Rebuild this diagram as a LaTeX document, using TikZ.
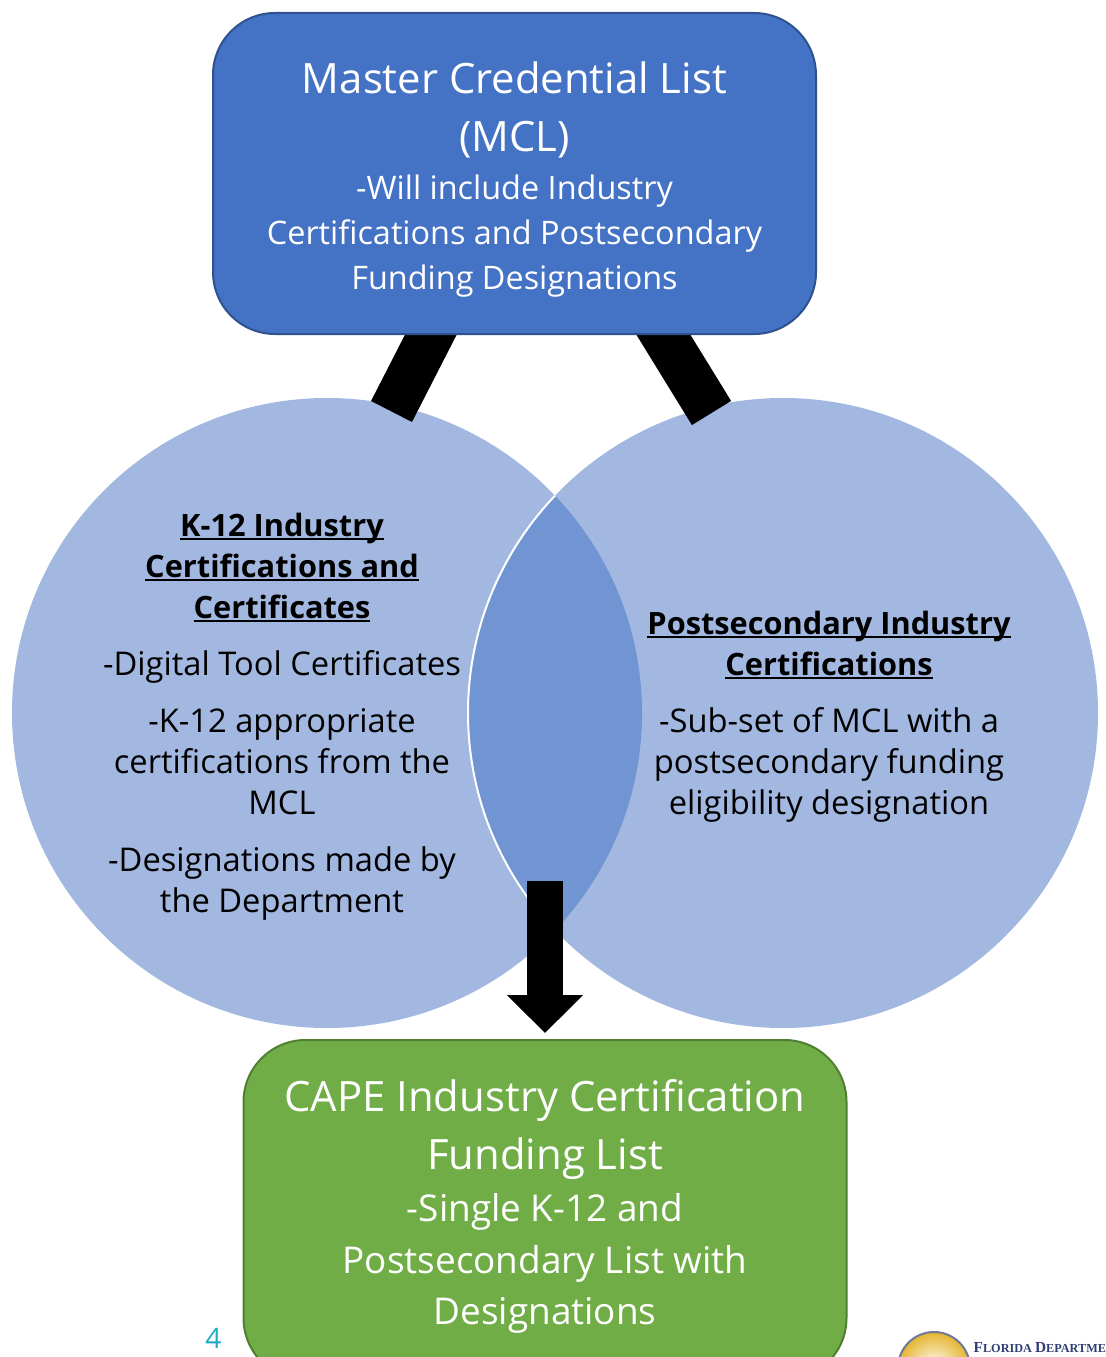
\documentclass[tikz,border=0pt]{standalone}
\usepackage{fontspec}
\setmainfont{Open Sans}
\newfontfamily\logofont{Liberation Serif}
\usetikzlibrary{
    arrows.meta,
    backgrounds
}
\definecolor{mclblue}{HTML}{4472C4}
\definecolor{mcledge}{HTML}{2F528F}
\definecolor{capegreen}{HTML}{70AD47}
\definecolor{capeedge}{HTML}{507E32}
\definecolor{circleblue}{HTML}{A2B8E1}
\definecolor{lensblue}{HTML}{7194D3}
\definecolor{pageteal}{HTML}{1CADC4}
\definecolor{logonavy}{HTML}{2F3F73}
\definecolor{logogold}{HTML}{E6B52F}
\newcommand{\headline}[1]{\setbox0\hbox{\fontsize{8.75}{11.66}\selectfont\bfseries #1}\rlap{\rule[-1.15pt]{\wd0}{0.65pt}}\box0}
\tikzset{
    listbox/.style={draw, line width=0.02cm, rounded corners=0.62cm, minimum width=6.03cm},
    venn/.style={circle, fill=circleblue, minimum size=6.3cm, inner sep=0},
    bar/.style={line width=0.46cm, black},
    boxtitle/.style={white, align=center, font=\fontsize{11.9}{16.5}\selectfont},
    boxbody/.style={white, align=center},
    venntext/.style={black, align=center, font=\fontsize{9.3}{11.66}\selectfont}
}

\begin{document}
\begin{tikzpicture}
    \useasboundingbox (0, 0) rectangle (11.05, -13.57);
    \clip (0, 0) rectangle (11.05, -13.57);

    % boxes
    \node[listbox, fill=mclblue, draw=mcledge, minimum height=3.21cm] (mcl) at (5.145, -1.735) {};
    \node[listbox, fill=capegreen, draw=capeedge, minimum height=3.4cm] (cape) at (5.45, -12.1) {};

    % circles and the arms stay behind the boxes
    \begin{scope}[on background layer]
        \node[venn] (leftvenn) at (3.27, -7.13) {};
        \node[venn] (rightvenn) at (7.83, -7.13) {};
        \begin{scope}
            \clip (leftvenn.center) circle (3.15);
            \fill[lensblue] (rightvenn.center) circle (3.15);
            \draw[white, line width=0.02cm] (rightvenn.center) circle (3.15);
        \end{scope}
        \coordinate (leftjoin) at (3.915, -4.115);
        \coordinate (leftroot) at (4.486, -3.0);
        \coordinate (rightjoin) at (7.115, -4.13);
        \coordinate (rightroot) at (6.42, -3.0);
        \draw[bar] (leftjoin) -- (leftroot);
        \draw[bar] (rightjoin) -- (rightroot);
    \end{scope}

    \node[boxtitle] (mcltitle) at (5.145, -1.1) {Master Credential List\\(MCL)};
    \node[boxbody, font=\fontsize{9.22}{12.8}\selectfont] (mclbody) at (5.145, -2.36) {-Will include Industry\\Certifications and Postsecondary\\Funding Designations};

    \node[venntext] (lefthead) at (2.82, -5.675) {\headline{K-12 Industry}\\\headline{Certifications and}\\\headline{Certificates}};
    \node[venntext] (tooltext) at (2.82, -6.67) {-Digital Tool Certificates};
    \node[venntext] (k12text) at (2.82, -7.62) {-K-12 appropriate\\certifications from the\\MCL};
    \node[venntext] (desigtext) at (2.82, -8.835) {-Designations made by\\the Department};

    \node[venntext] (righthead) at (8.29, -6.45) {\headline{Postsecondary Industry}\\\headline{Certifications}};
    \node[venntext] (subtext) at (8.29, -7.65) {-Sub-set of MCL with a\\postsecondary funding\\eligibility designation};

    \coordinate (lensfoot) at (5.45, -8.81);
    \draw[line width=0.36cm, -{Triangle[width=0.74cm, length=0.38cm]}, shorten >=0.06cm] (lensfoot) -- (cape.north);

    \node[boxtitle] (capetitle) at (5.45, -11.3) {CAPE Industry Certification\\Funding List};
    \node[boxbody, font=\fontsize{10.5}{14.65}\selectfont] (capebody) at (5.45, -12.635) {-Single K-12 and\\Postsecondary List with\\Designations};

    \node[pageteal, font=\fontsize{8}{9}\selectfont] (pagenum) at (2.135, -13.38) {4};

    % logo, cut by the page edge
    \shade[inner color=white, outer color=logogold] (9.34, -13.68) circle (0.36) coordinate (seal);
    \draw[logonavy!70, line width=0.02cm] (seal) circle (0.36);
    \node[logonavy, anchor=west, inner sep=0, font=\logofont\bfseries\fontsize{3.48}{5}\selectfont] (logotext) at (9.73, -13.48) {{\fontsize{4.36}{5}\selectfont F}LORIDA {\fontsize{4.36}{5}\selectfont D}EPARTME};
\end{tikzpicture}
\end{document}
